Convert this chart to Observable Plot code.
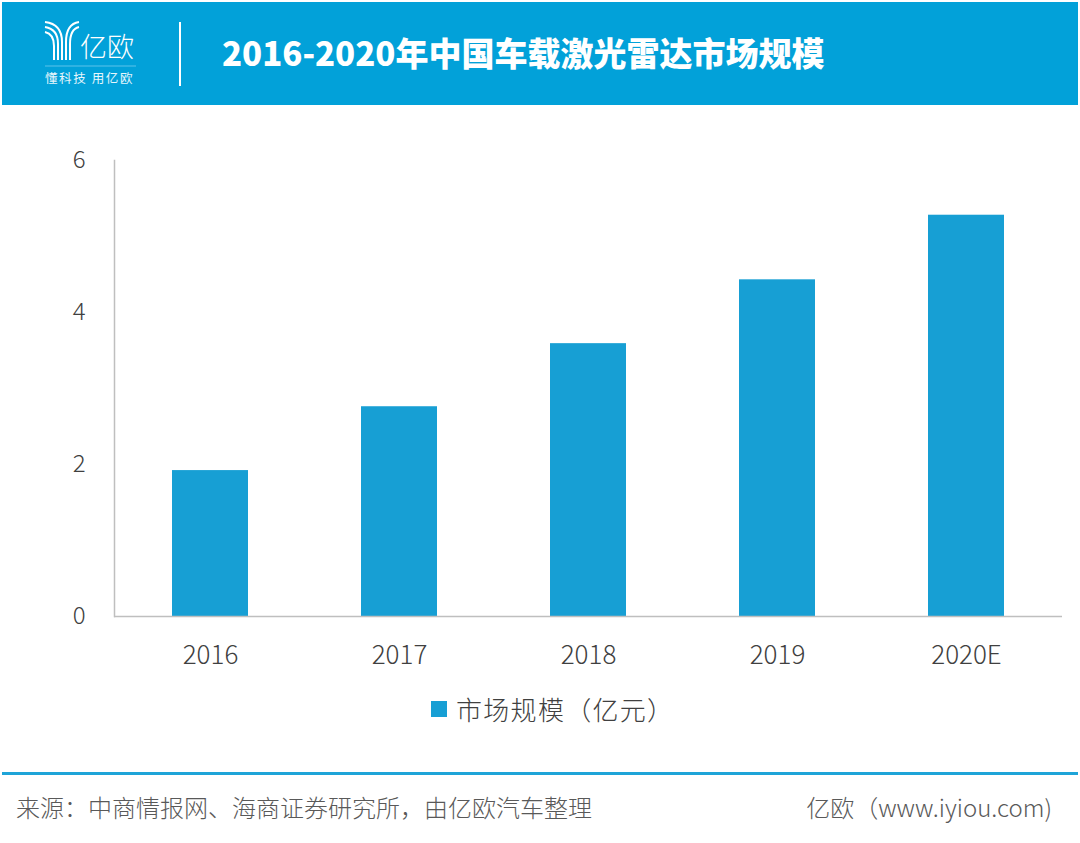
<!DOCTYPE html>
<html>
<head>
<meta charset="utf-8">
<script src="https://cdn.jsdelivr.net/npm/d3@7"></script>
<script src="https://cdn.jsdelivr.net/npm/@observablehq/plot@0.6"></script>
<style>
  html, body { margin: 0; padding: 0; background: #fff; }
  #page { position: relative; width: 1080px; height: 843px; overflow: hidden; background: #fff;
          font-family: "Noto Sans CJK SC", "Noto Sans", sans-serif; }
  #header { position: absolute; left: 2px; top: 2px; width: 1076px; height: 103px; background: #02a1d9; }
  #divider { position: absolute; left: 179px; top: 22px; width: 2px; height: 64px; background: #fff; }
  #title { position: absolute; left: 222px; top: 30px; font-size: 33px; line-height: 44px; font-weight: 900; color: #fff; letter-spacing: 0px; white-space: nowrap; }
  #logo { position: absolute; left: 40px; top: 18px; }
  #chart { position: absolute; left: 0; top: 120px; }
  #legend { position: absolute; left: 431px; top: 692px; display: flex; align-items: center; white-space: nowrap; }
  #legend .sw { width: 16px; height: 16px; background: #179fd4; margin-right: 9px; }
  #legend .lb { font-size: 26px; letter-spacing: 1.3px; color: #404040; font-weight: 300; line-height: 34px; }
  #rule { position: absolute; left: 2px; top: 772px; width: 1076px; height: 3px; background: #1ea4d8; }
  #source { position: absolute; left: 16px; top: 791px; font-size: 24px; letter-spacing: 0px; line-height: 32px; color: #595959; font-weight: 300; white-space: nowrap; }
  #site { position: absolute; right: 28px; top: 791px; font-size: 24px; line-height: 32px; color: #595959; font-weight: 300; white-space: nowrap; }
</style>
</head>
<body>
<div id="page">
  <div id="header"></div>
  <svg id="logo" width="110" height="70" viewBox="0 0 110 70">
    <g fill="none" stroke="#fff" stroke-width="2">
      <path d="M5 4 Q22 6 22 24 L22 42"/>
      <path d="M5 9 Q18 11 18 26 L18 42"/>
      <path d="M5 14 Q14 16 14 28 L14 42"/>
      <path d="M39 4 Q26 6 26 24 L26 42"/>
      <path d="M39 9 Q30 11 30 26 L30 42"/>
    </g>
    <text x="40" y="39" fill="#fff" font-size="27" font-weight="300" font-family="Noto Sans CJK SC">亿欧</text>
    <line x1="5" y1="48" x2="96" y2="48" stroke="#5cc3ea" stroke-width="1"/>
    <text x="5" y="65" fill="#e6f6fc" font-size="12.5" letter-spacing="1.6" font-family="Noto Sans CJK SC">懂科技 用亿欧</text>
  </svg>
  <div id="divider"></div>
  <div id="title"></div>
  <div id="chart"></div>
  <div id="legend"><div class="sw"></div><div class="lb"></div></div>
  <div id="rule"></div>
  <div id="source"></div>
  <div id="site"></div>
</div>
<script>
const titleText = "2016-2020年中国车载激光雷达市场规模";
const years = ["2016", "2017", "2018", "2019", "2020E"];
const values = [1.92, 2.76, 3.59, 4.43, 5.28];
const yTicks = [0, 2, 4, 6];
const seriesName = "市场规模（亿元）";
const sourceText = "来源：中商情报网、海商证券研究所，由亿欧汽车整理";
const siteText = "亿欧（www.iyiou.com)";

document.getElementById("title").textContent = titleText;
document.querySelector("#legend .lb").textContent = seriesName;
document.getElementById("source").textContent = sourceText;
document.getElementById("site").textContent = siteText;

const data = years.map((y, i) => ({year: y, value: values[i]}));
const barColor = "#179fd4";

const chart = Plot.plot({
  width: 1080,
  height: 560,
  marginTop: 40,
  marginBottom: 64,
  marginLeft: 114,
  marginRight: 18,
  style: {fontFamily: "'Noto Sans CJK SC', sans-serif", background: "transparent"},
  x: {domain: years, paddingInner: 0.6, paddingOuter: 0.3, label: null},
  y: {domain: [0, 6], label: null},
  marks: [
    Plot.barY(data, {x: "year", y: "value", fill: barColor}),
    Plot.frame({anchor: "left", stroke: "#bfbfbf", strokeWidth: 1.5}),
    Plot.ruleY([0], {stroke: "#bfbfbf", strokeWidth: 1.5}),
    Plot.axisY(yTicks, {tickSize: 0, tickPadding: 29, fontSize: 24, fill: "#404040", fontWeight: 300, tickFormat: d3.format("d"), label: null}),
    Plot.axisX({tickSize: 0, tickPadding: 29, fontSize: 26, fill: "#404040", fontWeight: 300, label: null})
  ]
});
document.getElementById("chart").appendChild(chart);
</script>
</body>
</html>
